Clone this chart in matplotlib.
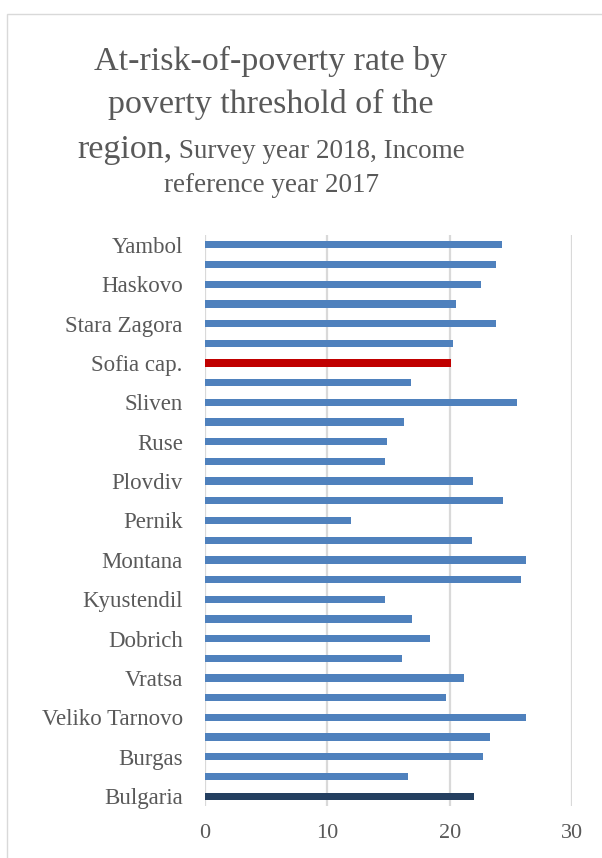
import matplotlib.pyplot as plt
from matplotlib.patches import Rectangle

# regions, bottom to top as drawn
regions = ['Bulgaria', 'Blagoevgrad', 'Burgas', 'Varna', 'Veliko Tarnovo', 'Vidin',
           'Vratsa', 'Gabrovo', 'Dobrich', 'Kardzhali', 'Kyustendil', 'Lovech',
           'Montana', 'Pazardzhik', 'Pernik', 'Pleven', 'Plovdiv', 'Razgrad', 'Ruse',
           'Silistra', 'Sliven', 'Smolyan', 'Sofia cap.', 'Sofia', 'Stara Zagora',
           'Targovishte', 'Haskovo', 'Shumen', 'Yambol']
rates = [22.0, 16.6, 22.7, 23.3, 26.2, 19.7,
         21.2, 16.1, 18.4, 16.9, 14.7, 25.8,
         26.2, 21.8, 11.9, 24.4, 21.9, 14.7, 14.9,
         16.3, 25.5, 16.8, 20.1, 20.3, 23.8,
         20.5, 22.6, 23.8, 24.3]
xticks = [0, 10, 20, 30]

txt = '#595959'
serif = 'Liberation Serif'

colors = []
for r in regions:
    if r == 'Bulgaria':
        colors.append('#243F60')
    elif r == 'Sofia cap.':
        colors.append('#C00000')
    else:
        colors.append('#4F81BD')

fig = plt.figure(figsize=(6.02, 8.58), dpi=100)
fig.patches.append(Rectangle((7/602, -0.1), 1.1, 0.1 + 1 - 14/858, transform=fig.transFigure,
                             fill=False, edgecolor='#D9D9D9', linewidth=1))

ax = fig.add_axes([205/602, 52/858, 367/602, 571/858])
ypos = list(range(len(regions)))
ax.barh(ypos, rates, height=0.37, color=colors, zorder=3)
ax.set_xlim(0, 30)
ax.set_ylim(-0.5, len(regions) - 0.5)
ax.set_xticks(xticks)
ax.set_xticklabels([str(t) for t in xticks], fontsize=16, color=txt, family=serif)
ax.set_yticks(ypos[::2])
ax.set_yticklabels(regions[::2], fontsize=16.5, color=txt, family=serif)
ax.tick_params(axis='both', length=0)
ax.tick_params(axis='y', pad=16)
ax.tick_params(axis='x', pad=13)
ax.grid(axis='x', color='#D9D9D9', linewidth=1.6, zorder=0)
for s in ax.spines.values():
    s.set_visible(False)

# title, with the mixed size third line
cx = 271 / 602
fig.text(cx, 1 - 61/858, 'At-risk-of-poverty rate by', ha='center', va='center',
         fontsize=24.5, color=txt, family=serif)
fig.text(cx, 1 - 104/858, 'poverty threshold of the', ha='center', va='center',
         fontsize=24.5, color=txt, family=serif)
r = fig.canvas.get_renderer()
t1 = fig.text(0, 0, 'region,', fontsize=24.5, color=txt, family=serif, va='baseline')
t2 = fig.text(0, 0, ' Survey year 2018, Income', fontsize=19.5, color=txt, family=serif, va='baseline')
w1 = t1.get_window_extent(r).width / fig.bbox.width
w2 = t2.get_window_extent(r).width / fig.bbox.width
x0 = cx - (w1 + w2) / 2
base = 1 - 158/858
t1.set_position((x0, base))
t2.set_position((x0 + w1, base))
fig.text(cx, 1 - 186/858, 'reference year 2017', ha='center', va='center',
         fontsize=19.5, color=txt, family=serif)

fig.savefig('out.png', dpi=100)
